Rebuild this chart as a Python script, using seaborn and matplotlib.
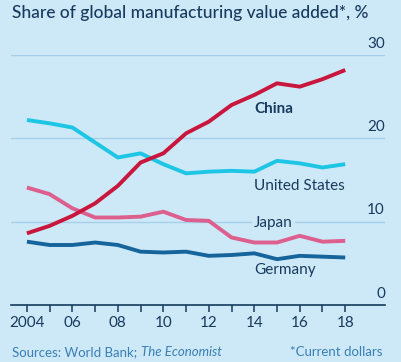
import matplotlib
matplotlib.use("Agg")
import matplotlib.pyplot as plt
import seaborn as sns
import pandas as pd

# Share of global manufacturing value added, % (current dollars)
years = [2004, 2005, 2006, 2007, 2008, 2009, 2010, 2011, 2012, 2013, 2014, 2015, 2016, 2017, 2018]
china = [8.6, 9.5, 10.7, 12.2, 14.3, 17.1, 18.2, 20.6, 22.0, 24.0, 25.2, 26.6, 26.2, 27.1, 28.2]
us = [22.2, 21.8, 21.3, 19.5, 17.7, 18.2, 16.9, 15.8, 16.0, 16.1, 16.0, 17.3, 17.0, 16.5, 16.9]
japan = [14.1, 13.3, 11.6, 10.5, 10.5, 10.6, 11.2, 10.2, 10.1, 8.1, 7.5, 7.5, 8.3, 7.6, 7.7]
germany = [7.6, 7.2, 7.2, 7.5, 7.2, 6.4, 6.3, 6.4, 5.9, 6.0, 6.2, 5.5, 5.9, 5.8, 5.7]

countries = ["United States", "Japan", "Germany", "China"]
y_ticks = [0, 10, 20, 30]
x_major = [2004, 2006, 2008, 2010, 2012, 2014, 2016, 2018]
x_labels = ["2004", "06", "08", "10", "12", "14", "16", "18"]

bg = "#cde8f7"
grid_col = "#a6cfe8"
navy = "#173a5e"
palette = {"China": "#c8163c", "United States": "#1cc6e4",
           "Japan": "#dc5f8e", "Germany": "#16649c"}

df = pd.DataFrame({
    "year": years * 4,
    "share": us + japan + germany + china,
    "country": sum([[c] * len(years) for c in countries], []),
})

sns.set_theme(style="white")
plt.rcParams["font.family"] = ["Lato", "DejaVu Sans"]

fig = plt.figure(figsize=(4.01, 3.62), dpi=100, facecolor=bg)
ax = fig.add_axes([11 / 401, 57 / 362, 374 / 401, 250 / 362])
ax.set_facecolor(bg)

sns.lineplot(data=df, x="year", y="share", hue="country", palette=palette,
             hue_order=countries, linewidth=2.8, legend=False, ax=ax,
             solid_capstyle="butt", clip_on=False, zorder=3)

ax.set_xlim(2003.3, 2019.75)
ax.set_ylim(0, 30)
for s in ["top", "right", "left"]:
    ax.spines[s].set_visible(False)
ax.spines["bottom"].set_color(navy)
ax.spines["bottom"].set_linewidth(1.2)

# gridlines
for v in y_ticks[1:]:
    ax.axhline(v, color=grid_col, lw=1.0, zorder=1)
ax.set_yticks([])
for v in y_ticks:
    ax.text(2019.75, v + 0.5, str(v), ha="right", va="bottom",
            fontsize=11, color=navy)

ax.set_xticks(x_major)
ax.set_xticklabels(x_labels)
ax.set_xticks([y for y in years if y not in x_major], minor=True)
ax.tick_params(axis="x", which="both", direction="out", length=5, width=1.1,
               color=navy, labelsize=11, labelcolor=navy, pad=3, bottom=True)
ax.set_xlabel("")
ax.set_ylabel("")

# series labels
ax.text(2014.0, 23.5, "China", fontsize=11, fontweight="bold", color=navy,
        va="center", ha="left")
ax.text(2014.0, 14.3, "United States", fontsize=11, color=navy,
        va="center", ha="left")
ax.text(2014.0, 9.85, "Japan", fontsize=11, color=navy, va="center", ha="left",
        zorder=2, bbox=dict(facecolor=bg, edgecolor="none", pad=1.5))
ax.text(2014.0, 4.2, "Germany", fontsize=11, color=navy,
        va="center", ha="left")

fig.text(12 / 401, 1 - 13 / 362, "Share of global manufacturing value added*, %",
         fontsize=12.5, color=navy, va="center", ha="left", fontweight="medium")
fig.text(12 / 401, 1 - 352 / 362, "Sources: World Bank; ", fontsize=9.5,
         color="#3a7fb5", va="center", ha="left")
fig.text(12 / 401 + 0.322, 1 - 352 / 362, "The Economist", fontsize=9.5,
         color="#3a7fb5", va="center", ha="left", style="italic")
fig.text(383 / 401, 1 - 352 / 362, "*Current dollars", fontsize=9.5,
         color="#3a7fb5", va="center", ha="right")

fig.savefig("out.png", dpi=100, facecolor=bg)
